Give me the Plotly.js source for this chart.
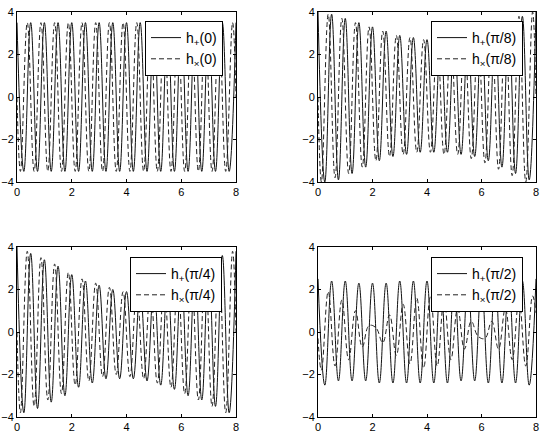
<!DOCTYPE html>
<html>
<head>
<meta charset="utf-8">
<script src="https://cdn.plot.ly/plotly-3.0.1.min.js"></script>
<style>
  html, body { margin: 0; padding: 0; background: #fff; }
  #plot { width: 545px; height: 436px; }
</style>
</head>
<body>
<div id="plot"></div>
<script>
// times of the extrema
var tPlus = [0, 0.25, 0.5, 0.75, 1, 1.25, 1.5, 1.75, 2, 2.25, 2.5, 2.75, 3, 3.25, 3.5, 3.75,
  4, 4.25, 4.5, 4.75, 5, 5.25, 5.5, 5.75, 6, 6.25, 6.5, 6.75, 7, 7.25, 7.5, 7.75, 8];
var tCross = [0, 0.125, 0.375, 0.625, 0.875, 1.125, 1.375, 1.625, 1.875, 2.125, 2.375, 2.625,
  2.875, 3.125, 3.375, 3.625, 3.875, 4.125, 4.375, 4.625, 4.875, 5.125, 5.375, 5.625, 5.875,
  6.125, 6.375, 6.625, 6.875, 7.125, 7.375, 7.625, 7.875, 8];

// iota = 0
var hPlus0 = [3.5, -3.5, 3.5, -3.5, 3.5, -3.5, 3.5, -3.5, 3.5, -3.5, 3.5, -3.5, 3.5, -3.5, 3.5, -3.5, 3.5,
  -3.5, 3.5, -3.5, 3.5, -3.5, 3.5, -3.5, 3.5, -3.5, 3.5, -3.5, 3.5, -3.5, 3.5, -3.5, 3.5];
var hCross0 = [0, -3.5, 3.5, -3.5, 3.5, -3.5, 3.5, -3.5, 3.5, -3.5, 3.5, -3.5, 3.5, -3.5, 3.5, -3.5, 3.5,
  -3.5, 3.5, -3.5, 3.5, -3.5, 3.5, -3.5, 3.5, -3.5, 3.5, -3.5, 3.5, -3.5, 3.5, -3.5, 3.5, 0];

// iota = pi/8
var hPlus8 = [4.0, -4.0, 3.9, -3.9, 3.7, -3.6, 3.5, -3.3, 3.3, -3.0, 3.1, -2.8, 2.9, -2.7, 2.8, -2.6, 2.7,
  -2.6, 2.7, -2.6, 2.8, -2.7, 2.9, -2.8, 3.0, -3.0, 3.2, -3.3, 3.5, -3.6, 3.8, -3.9, 4.0];
var hCross8 = [0, -4.0, 3.9, -3.8, 3.7, -3.6, 3.5, -3.3, 3.3, -3.0, 3.1, -2.8, 2.9, -2.7, 2.8, -2.6, 2.7,
  -2.6, 2.7, -2.7, 2.8, -2.7, 2.9, -2.9, 3.0, -3.1, 3.3, -3.4, 3.6, -3.7, 3.8, -4.0, 4.0, 0];

// iota = pi/4
var hPlus4 = [4.0, -3.8, 3.7, -3.6, 3.4, -3.3, 3.1, -3.0, 2.7, -2.6, 2.4, -2.4, 2.2, -2.2, 2.0, -2.2, 1.9,
  -2.2, 2.0, -2.3, 2.2, -2.5, 2.4, -2.7, 2.7, -3.0, 3.0, -3.2, 3.3, -3.5, 3.6, -3.8, 3.8];
var hCross4 = [0, -3.8, 3.8, -3.5, 3.5, -3.2, 3.2, -2.9, 2.8, -2.5, 2.5, -2.3, 2.3, -2.1, 2.1, -2.0, 1.9,
  -2.1, 1.9, -2.2, 2.1, -2.4, 2.3, -2.6, 2.5, -2.9, 2.8, -3.2, 3.2, -3.5, 3.5, -3.8, 3.8, 0];

// iota = pi/2
var hPlus2 = [2.5, -2.5, 2.4, -2.3, 2.4, -2.3, 2.3, -2.3, 2.3, -2.4, 2.3, -2.4, 2.4, -2.4, 2.4, -2.4, 2.4,
  -2.4, 2.4, -2.4, 2.3, -2.3, 2.3, -2.3, 2.3, -2.4, 2.4, -2.4, 2.4, -2.4, 2.4, -2.5, 2.5];
var hCross2 = [-0.3, -1.8, 1.9, -1.6, 1.5, -1.3, 1.0, -0.7, 0.3, 0.2, -0.5, 0.8, -1.1, 1.3, -1.5, 1.6, -1.7,
  1.7, -1.6, 1.5, -1.3, 1.1, -0.8, 0.5, -0.2, -0.3, 0.5, -0.8, 1.1, -1.3, 1.5, -1.6, 1.7, 0.9];

var labels = ['0', '\u03c0/8', '\u03c0/4', '\u03c0/2'];

var panels = [
  {plus: hPlus0, cross: hCross0},
  {plus: hPlus8, cross: hCross8},
  {plus: hPlus4, cross: hCross4},
  {plus: hPlus2, cross: hCross2}
];

var data = [];
panels.forEach(function (p, i) {
  var n = i === 0 ? '' : String(i + 1);
  var leg = 'legend' + n;
  data.push({
    x: tPlus, y: p.plus, xaxis: 'x' + n, yaxis: 'y' + n,
    type: 'scatter', mode: 'lines', legend: leg,
    name: 'h<sub>+</sub>(' + labels[i] + ')',
    line: {color: '#111', width: 1, shape: 'spline', smoothing: 1.2}
  });
  data.push({
    x: tCross, y: p.cross, xaxis: 'x' + n, yaxis: 'y' + n,
    type: 'scatter', mode: 'lines', legend: leg,
    name: 'h<sub>\u00d7</sub>(' + labels[i] + ')',
    line: {color: '#222', width: 1, dash: '5px,3px', shape: 'spline', smoothing: 1.2}
  });
});

var W = 545, H = 436;
var xDom = [[17 / W, 236 / W], [318 / W, 536 / W]];
var yDom = [[(H - 182) / H, (H - 12) / H], [(H - 417) / H, (H - 247) / H]];

function xax(dom, anchor) {
  return {
    domain: dom, anchor: anchor, range: [0, 8], dtick: 2, tick0: 0,
    showline: true, mirror: 'ticks', linecolor: '#000', linewidth: 1,
    ticks: 'inside', ticklen: 3, tickcolor: '#000',
    showgrid: false, zeroline: false,
    tickfont: {family: 'Liberation Sans, Arial, sans-serif', size: 11, color: '#000'}
  };
}
function yax(dom, anchor) {
  var a = xax(dom, anchor);
  a.range = [-4, 4];
  return a;
}

function legendAt(xr, yt) {
  return {
    x: xr / W, y: (H - yt) / H, xanchor: 'right', yanchor: 'top',
    bgcolor: '#fff', bordercolor: '#000', borderwidth: 1,
    font: {family: 'Liberation Sans, Arial, sans-serif', size: 14, color: '#000'},
    itemwidth: 30, tracegroupgap: 0
  };
}

var layout = {
  width: W, height: H,
  margin: {l: 0, r: 0, t: 0, b: 0},
  paper_bgcolor: '#fff', plot_bgcolor: '#fff',
  showlegend: true,
  xaxis: xax(xDom[0], 'y'), yaxis: yax(yDom[0], 'x'),
  xaxis2: xax(xDom[1], 'y2'), yaxis2: yax(yDom[0], 'x2'),
  xaxis3: xax(xDom[0], 'y3'), yaxis3: yax(yDom[1], 'x3'),
  xaxis4: xax(xDom[1], 'y4'), yaxis4: yax(yDom[1], 'x4'),
  legend: legendAt(223, 21),
  legend2: legendAt(523, 21),
  legend3: legendAt(222, 257),
  legend4: legendAt(523, 257)
};

Plotly.newPlot('plot', data, layout, {displayModeBar: false, staticPlot: true});
</script>
</body>
</html>
